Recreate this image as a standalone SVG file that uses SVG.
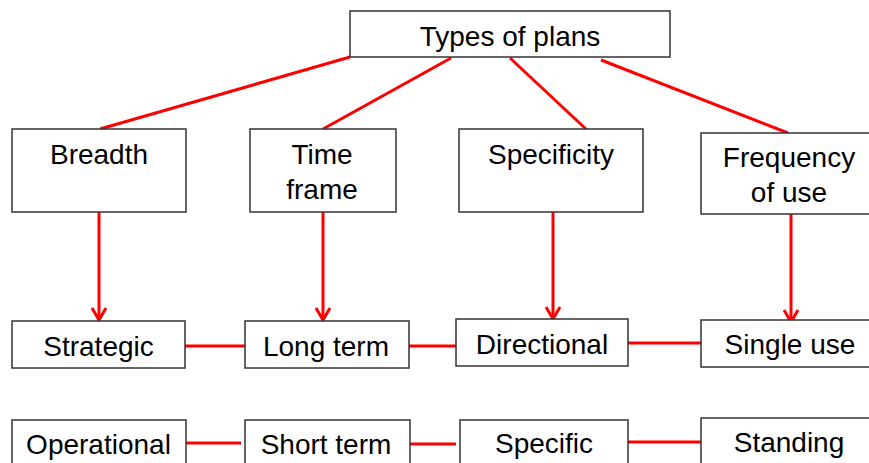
<svg xmlns="http://www.w3.org/2000/svg" width="869" height="463" viewBox="0 0 869 463">
<defs>
<style>
.box{fill:#fff;stroke:#333;stroke-width:1.5}
.lbl{font-family:"Liberation Sans",Arial,sans-serif;font-size:28px;fill:#000;text-anchor:middle}
.con{stroke:#ff0000;stroke-width:3;fill:none}
</style>
<marker id="arr" markerUnits="userSpaceOnUse" markerWidth="20" markerHeight="20" refX="0" refY="0" orient="auto" overflow="visible">
<path d="M-12,-7 L0,0 L-12,7" fill="none" stroke="#ff0000" stroke-width="3"/>
</marker>
</defs>
<rect width="869" height="463" fill="#fff"/>
<g id="connectors">
<line class="con" x1="350" y1="57" x2="100" y2="129"/>
<line class="con" x1="451" y1="58" x2="323" y2="129"/>
<line class="con" x1="510" y1="58" x2="587" y2="130"/>
<line class="con" x1="601" y1="60" x2="788" y2="133"/>
<line class="con" x1="99" y1="212" x2="99" y2="320" marker-end="url(#arr)"/>
<line class="con" x1="323" y1="212" x2="323" y2="320" marker-end="url(#arr)"/>
<line class="con" x1="553" y1="212" x2="553" y2="319" marker-end="url(#arr)"/>
<line class="con" x1="791" y1="214" x2="791" y2="322" marker-end="url(#arr)"/>
<line class="con" x1="185" y1="346" x2="245" y2="346"/>
<line class="con" x1="409" y1="346" x2="456" y2="346"/>
<line class="con" x1="628" y1="343" x2="701" y2="343"/>
<line class="con" x1="186" y1="443" x2="241" y2="443"/>
<line class="con" x1="410" y1="444" x2="456" y2="444"/>
<line class="con" x1="628" y1="442" x2="701" y2="442"/>
</g>
<g id="types">
<rect class="box" x="350" y="11" width="320" height="46"/>
<text class="lbl" x="510" y="46">Types of plans</text>
</g>
<g id="breadth">
<rect class="box" x="12" y="129" width="174" height="83"/>
<text class="lbl" x="99" y="164">Breadth</text>
</g>
<g id="timeframe">
<rect class="box" x="250" y="129" width="146" height="83"/>
<text class="lbl" x="322" y="164">Time</text>
<text class="lbl" x="322" y="199">frame</text>
</g>
<g id="specificity">
<rect class="box" x="459" y="129" width="184" height="83"/>
<text class="lbl" x="551" y="164">Specificity</text>
</g>
<g id="frequency">
<rect class="box" x="701" y="133" width="176" height="81"/>
<text class="lbl" x="789" y="167">Frequency</text>
<text class="lbl" x="789" y="202">of use</text>
</g>
<g id="strategic">
<rect class="box" x="12" y="321" width="173" height="47"/>
<text class="lbl" x="98.5" y="356">Strategic</text>
</g>
<g id="longterm">
<rect class="box" x="245" y="321" width="164" height="47"/>
<text class="lbl" x="326" y="356">Long term</text>
</g>
<g id="directional">
<rect class="box" x="456" y="319" width="172" height="47"/>
<text class="lbl" x="542" y="354">Directional</text>
</g>
<g id="singleuse">
<rect class="box" x="701" y="320" width="178" height="47"/>
<text class="lbl" x="790" y="354">Single use</text>
</g>
<g id="operational">
<rect class="box" x="12" y="420" width="174" height="60"/>
<text class="lbl" x="98.5" y="454">Operational</text>
</g>
<g id="shortterm">
<rect class="box" x="245" y="420" width="165" height="60"/>
<text class="lbl" x="326" y="454">Short term</text>
</g>
<g id="specific">
<rect class="box" x="460" y="420" width="168" height="60"/>
<text class="lbl" x="544" y="453">Specific</text>
</g>
<g id="standing">
<rect class="box" x="701" y="418" width="178" height="60"/>
<text class="lbl" x="789" y="452">Standing</text>
</g>
</svg>
